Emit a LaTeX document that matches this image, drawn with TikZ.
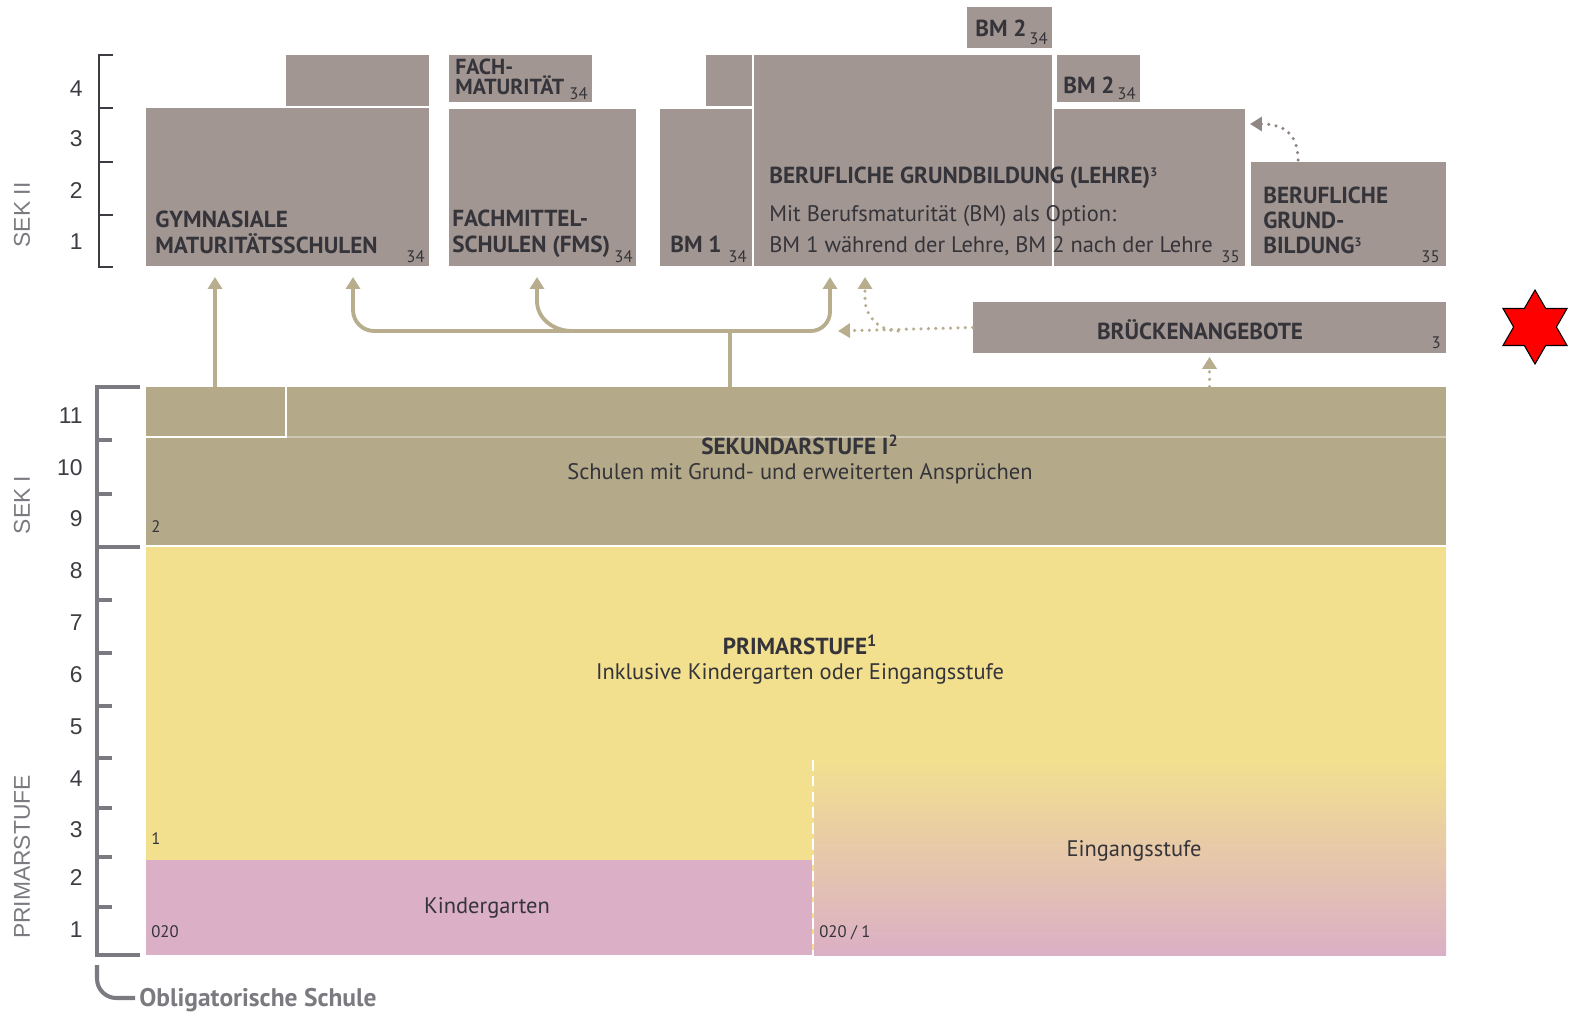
\documentclass[tikz,border=0pt]{standalone}
\usepackage{fontspec}
\setmainfont{PT Sans}
\newfontfamily\axisfont{Liberation Sans}
\usetikzlibrary{arrows.meta,positioning,fit,shapes.geometric,calc}

\definecolor{boxgray}{RGB}{161,150,145}
\definecolor{sekcol}{RGB}{180,170,138}
\definecolor{primcol}{RGB}{242,224,143}
\definecolor{kgcol}{RGB}{219,175,198}
\definecolor{arrcol}{RGB}{184,174,142}
\definecolor{txtcol}{RGB}{52,52,58}
\definecolor{numcol}{RGB}{60,60,66}
\definecolor{axiscol}{RGB}{122,122,128}

\newcommand\fnmark[1]{\raisebox{0.55ex}{\fontsize{7}{7}\selectfont #1}}

\tikzset{
  box/.style={rectangle,inner sep=0pt,fill=boxgray},
  band/.style={rectangle,inner sep=0pt},
  ttl/.style={font=\bfseries\fontsize{13.2}{14.7}\selectfont,text=txtcol,align=left,inner sep=0pt,anchor=base west},
  txt/.style={font=\fontsize{12.8}{14.7}\selectfont,text=txtcol,inner sep=0pt},
  ref/.style={font=\fontsize{9.5}{9.5}\selectfont,text=txtcol,inner sep=0pt},
  num/.style={font=\axisfont\fontsize{13}{13}\selectfont,text=numcol,inner sep=0pt,anchor=base east},
  stage/.style={font=\axisfont\fontsize{13}{13}\selectfont,text=axiscol,rotate=90,inner sep=0pt},
  arrow/.style={-{Triangle[length=6.8pt,width=8pt]},line width=2.2pt,draw=arrcol},
  dotarrow/.style={-{Triangle[length=6.8pt,width=8pt]},line width=2pt,line cap=round,
    dash pattern=on 0pt off 4.2pt,draw=arrcol},
  seam/.style={white,line width=1.2pt},
}

\begin{document}
\begin{tikzpicture}[x=0.02cm,y=-0.02cm]
  \useasboundingbox (0,0) rectangle (1571,1014);

  % Sek II boxes
  \node[box,fit={(146,108) (429,266)}] (gym) {};
  \node[box,fit={(286,55) (429,106)}] (gymtop) {};
  \node[box,fit={(449,55) (592,102)}] (fm) {};
  \node[box,fit={(449,109) (636,266)}] (fms) {};
  \node[box,fit={(660,109) (752,266)}] (bm1) {};
  \node[box,fit={(706,55) (752,106)}] (bm1top) {};
  \node[box,fit={(754,55) (1052,266)}] (lehre) {};
  \node[box,fit={(1054,109) (1245,266)}] (lehreR) {};
  \node[box,fit={(967,7) (1052,48)}] (bm2a) {};
  \node[box,fit={(1057,55) (1140,102)}] (bm2b) {};
  \node[box,fit={(1251,162) (1446,266)}] (eba) {};
  \node[box,fit={(973,302) (1446,353)}] (bruecke) {};
  \draw[seam,dash pattern=on 6pt off 3pt] (753,55) -- (753,266);

  \node[ttl] (l-gym) at (155,253) {GYMNASIALE\\MATURITÄTSSCHULEN};
  \node[ref,anchor=base east] (r-gym) at (425,262) {34};
  \node[ttl,font=\bfseries\fontsize{12.4}{11.3}\selectfont] (l-fm) at (455,94) {FACH-\\MATURITÄT};
  \node[ref,anchor=base east] (r-fm) at (588,99) {34};
  \node[ttl] (l-fms) at (452,252) {FACHMITTEL-\\SCHULEN (FMS)};
  \node[ref,anchor=base east] (r-fms) at (633,262) {34};
  \node[ttl] (l-bm1) at (670,252) {BM 1};
  \node[ref,anchor=base east] (r-bm1) at (747,262) {34};
  \node[ttl] (l-lehre) at (769,183) {BERUFLICHE GRUNDBILDUNG (LEHRE)\fnmark{3}};
  \node[txt,anchor=base west] (l-opt) at (769,221) {Mit Berufsmaturität (BM) als Option:};
  \node[txt,anchor=base west] (l-bm) at (769,252) {BM 1 während der Lehre, BM 2 nach der Lehre};
  \node[ref,anchor=base east] (r-lehre) at (1240,262) {35};
  \node[ttl] (l-bm2a) at (975,36) {BM 2};
  \node[ref,anchor=base east] (r-bm2a) at (1048,44) {34};
  \node[ttl] (l-bm2b) at (1063,93) {BM 2};
  \node[ref,anchor=base east] (r-bm2b) at (1136,99) {34};
  \node[ttl,font=\bfseries\fontsize{13.2}{14}\selectfont] (l-eba) at (1263,253) {BERUFLICHE\\GRUND-\\BILDUNG\fnmark{3}};
  \node[ref,anchor=base east] (r-eba) at (1440,262) {35};
  \node[ttl,anchor=center] (l-bruecke) at (1200,330) {BRÜCKENANGEBOTE};
  \node[ref,anchor=base east] (r-bruecke) at (1441,348) {3};

  % Sek I and Primarstufe
  \node[band,fill=sekcol,fit={(146,387) (1446,545)}] (sek1) {};
  \draw[white,opacity=0.35,line width=0.8pt] (146,437) -- (1446,437);
  \draw[seam] (146,437) -| (286,387);
  \node[band,fill=primcol,fit={(146,547) (1446,955)}] (prim) {};
  \node[band,fill=kgcol,fit={(146,860) (812,955)}] (kg) {};
  \node[band,top color=primcol,bottom color=kgcol,fit={(814,760) (1446,955)}] (eing) {};
  \draw[seam,dash pattern=on 6pt off 3pt] (813,760) -- (813,955);

  \node[ttl,anchor=center] (l-sek1) at (800,445) {SEKUNDARSTUFE I\textsuperscript{2}};
  \node[txt] (l-sek1b) at (800,474) {Schulen mit Grund- und erweiterten Ansprüchen};
  \node[ref,anchor=base west] (r-sek1) at (151,532) {2};
  \node[ttl,anchor=center] (l-prim) at (800,645) {PRIMARSTUFE\textsuperscript{1}};
  \node[txt] (l-primb) at (800,674) {Inklusive Kindergarten oder Eingangsstufe};
  \node[ref,anchor=base west] (r-prim) at (151,844) {1};
  \node[txt] (l-kg) at (487,908) {Kindergarten};
  \node[ref,anchor=base west] (r-kg) at (151,937) {020};
  \node[txt] (l-eing) at (1134,851) {Eingangsstufe};
  \node[ref,anchor=base west] (r-eing) at (819,937) {020 / 1};

  % arrows
  \coordinate (t1) at (215,277);
  \coordinate (t2) at (353,277);
  \coordinate (t3) at (537,277);
  \coordinate (t4) at (830,277);
  \coordinate (fork) at (730,331);
  \draw[arrow] (t1 |- sek1.north) -- (t1);
  \draw[line width=2.2pt,draw=arrcol] (fork |- sek1.north) -- (fork);
  \draw[arrow,rounded corners=12pt] (fork) -| (t2);
  \draw[arrow,rounded corners=11pt] (fork) -| (t4);
  \draw[arrow] ($(fork)+(-158,0)$) to[out=180,in=-90] ($(t3)+(0,24)$) -- (t3);
  \coordinate (d1) at (838,331);
  \coordinate (d2) at (865,277);
  \draw[dotarrow] (bruecke.west) -- (d1);
  \draw[dotarrow] (898,331) to[out=180,in=-90] ($(d2)+(0,22)$) -- (d2);
  \draw[dotarrow,shorten >=2pt] (sek1.north -| bruecke.south) -- (bruecke.south);
  \coordinate (e1) at (1298,160);
  \coordinate (e2) at (1250,124);
  \draw[dotarrow,draw=boxgray!90!black] (e1) .. controls (1298,132) and (1282,124) .. (e2);

  % scale on the left
  \draw[numcol,line width=0.9pt] (113,55) -| (99,267) -- (113,267);
  \foreach \y in {108,162,215} \draw[numcol,line width=0.9pt] (99,\y) -- (113,\y);
  \draw[axiscol,line width=2.3pt] (140,387) -| (97,955) -- (140,955);
  \draw[axiscol,line width=2.3pt] (97,547) -- (140,547);
  \foreach \y in {440,494,600,653,706,758,808,857,907}
    \draw[axiscol,line width=2.3pt] (97,\y) -- (112,\y);
  \foreach \n/\y in {4/96,3/146,2/198,1/249}
    \node[num] (s2-\n) at (83,\y) {\n};
  \foreach \n/\y in {11/423,10/475,9/526}
    \node[num] (s1-\n) at (83,\y) {\n};
  \foreach \n/\y in {8/578,7/630,6/682,5/734,4/786,3/837,2/885,1/937}
    \node[num] (p-\n) at (83,\y) {\n};
  \node[stage] (st-sek2) at (22,215) {SEK II};
  \node[stage] (st-sek1) at (22,505) {SEK I};
  \node[stage] (st-prim) at (22,857) {PRIMARSTUFE};
  \draw[axiscol,line width=2.3pt,rounded corners=11pt] (97,965) |- (135,998);
  \node[txt,anchor=base west,font=\bfseries\fontsize{14.5}{14.5}\selectfont,text=axiscol] (oblig) at (139,1006) {Obligatorische Schule};

  % marker
  \node[star,star points=6,star point ratio=1.73,minimum size=1.48cm,inner sep=0pt,
    fill=red,draw=black,line width=0.6pt] (mark) at (1535,327) {};
\end{tikzpicture}
\end{document}
